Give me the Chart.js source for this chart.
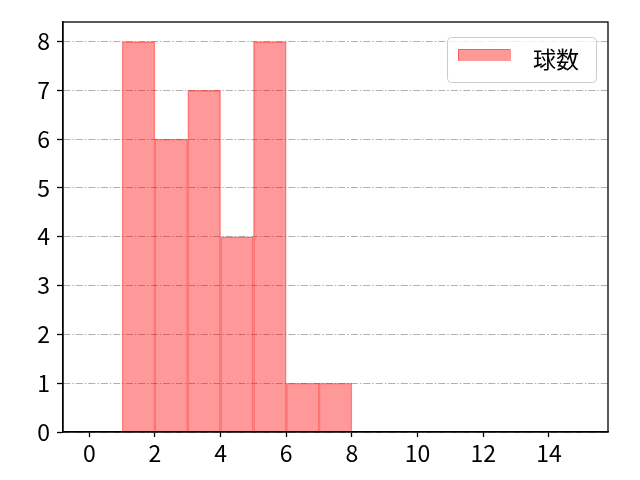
<!DOCTYPE html>
<html>
<head>
<meta charset="utf-8">
<script src="https://cdn.jsdelivr.net/npm/chart.js@4"></script>
<style>
body{ margin:0; background:#fff; }
canvas{ display:block; }
</style>
</head>
<body>
<canvas id="histChart" width="640" height="480"></canvas>
<script>

const binStarts = [1, 2, 3, 4, 5, 6, 7];
const binCounts = [8, 6, 7, 4, 8, 1, 1];
const xTicks = [0, 2, 4, 6, 8, 10, 12, 14];
const yTicks = [0, 1, 2, 3, 4, 5, 6, 7, 8];
const seriesLabel = "球数";

const FONT = "'Noto Sans CJK JP', 'DejaVu Sans', sans-serif";

const barFill = "rgba(255,0,0,0.4)";
const barEdge = "rgba(255,0,0,0.4)";

// frame + legend drawn by hand, matplotlib style
const framePlugin = {
    id: "frame",
    afterDraw(chart){
        const ctx = chart.ctx;
        const a = chart.chartArea;

        ctx.save();
        ctx.setLineDash([]);
        ctx.strokeStyle = "#000";
        ctx.lineWidth = 1.3;
        ctx.strokeRect(a.left, a.top, a.right - a.left, a.bottom - a.top);

        // legend box
        const bx = 447, by = 37, bw = 149, bh = 45;
        ctx.fillStyle = "rgba(255,255,255,0.8)";
        ctx.strokeStyle = "#cccccc";
        ctx.lineWidth = 1;
        ctx.beginPath();
        ctx.roundRect(bx + 0.5, by + 0.5, bw, bh, 4);
        ctx.fill();
        ctx.stroke();

        ctx.fillStyle = barFill;
        ctx.strokeStyle = barEdge;
        ctx.fillRect(458, 49, 52, 11);
        ctx.strokeRect(458.5, 49.5, 52, 11);

        ctx.fillStyle = "#000";
        ctx.font = "23px " + FONT;
        ctx.textBaseline = "middle";
        ctx.fillText(chart.data.datasets[0].label, 533, 59);
        ctx.restore();
    }
};

new Chart(document.getElementById("histChart"), {

    type: "bar",

    data: {
        datasets: [{
            label: seriesLabel,
            data: binStarts.map((s, i) => ({ x: s + 0.5, y: binCounts[i] })),
            backgroundColor: barFill,
            borderColor: barEdge,
            borderWidth: 0.8,
            barPercentage: 1,
            categoryPercentage: 1
        }]
    },

    options: {
        responsive: false,
        animation: false,
        devicePixelRatio: 1,

        layout: {
            padding: { top: 22, right: 32, left: 0, bottom: 0 }
        },

        plugins: {
            legend: { display: false },
            tooltip: { enabled: false }
        },

        scales: {
            x: {
                type: "linear",
                min: -0.8,
                max: 15.8,
                offset: false,
                afterBuildTicks(scale){
                    scale.ticks = xTicks.map(v => ({ value: v }));
                },
                afterFit(scale){
                    scale.height = 48;
                },
                grid: {
                    offset: false,
                    drawOnChartArea: false,
                    tickLength: 5,
                    tickColor: "#000",
                    tickWidth: 1.3
                },
                border: { color: "#000", width: 1.3 },
                ticks: {
                    color: "#000",
                    font: { family: FONT, size: 23 },
                    padding: 2,
                    maxRotation: 0
                }
            },
            y: {
                min: 0,
                max: 8.4,
                afterBuildTicks(scale){
                    scale.ticks = yTicks.map(v => ({ value: v }));
                },
                afterFit(scale){
                    scale.width = 63;
                },
                grid: {
                    color: "#b0b0b0",
                    lineWidth: 1,
                    tickLength: 6,
                    tickColor: "#000",
                    tickWidth: 1.3,
                    tickBorderDash: []
                },
                border: { color: "#000", width: 1.3, dash: [7, 2, 1.5, 2] },
                ticks: {
                    color: "#000",
                    font: { family: FONT, size: 23 },
                    padding: 7
                }
            }
        }
    },

    plugins: [framePlugin]
});

</script>
</body>
</html>
